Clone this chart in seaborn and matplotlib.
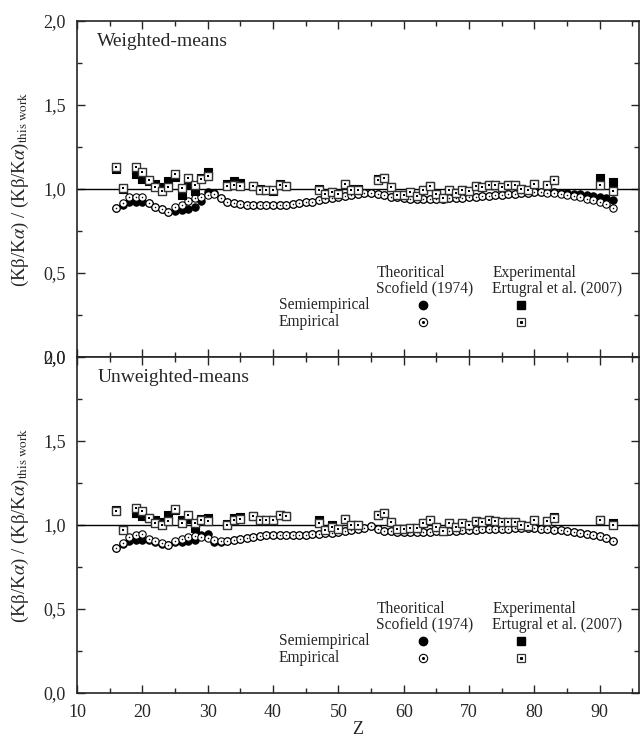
import matplotlib
matplotlib.use('Agg')
import matplotlib.pyplot as plt
import seaborn as sns

# Z values of the Scofield (1974) theoretical ratios
z_theory = list(range(16, 93))

w_semi_theory = [0.885, 0.905, 0.925, 0.925, 0.925, 0.915, 0.895, 0.880, 0.865, 0.870,
                 0.875, 0.880, 0.895, 0.930, 0.985, 0.975, 0.945, 0.925, 0.915, 0.910,
                 0.905, 0.903, 0.903, 0.903, 0.903, 0.905, 0.907, 0.910, 0.915, 0.920,
                 0.925, 0.932, 0.938, 0.945, 0.952, 0.958, 0.964, 0.970, 0.975, 0.978,
                 0.970, 0.962, 0.955, 0.950, 0.945, 0.942, 0.940, 0.940, 0.940, 0.941,
                 0.942, 0.944, 0.946, 0.948, 0.951, 0.954, 0.957, 0.960, 0.963, 0.966,
                 0.969, 0.972, 0.975, 0.978, 0.980, 0.982, 0.982, 0.980, 0.978, 0.975,
                 0.972, 0.968, 0.963, 0.958, 0.952, 0.945, 0.935]
w_emp_theory = [0.885, 0.915, 0.950, 0.952, 0.950, 0.918, 0.895, 0.880, 0.865, 0.892,
                0.905, 0.928, 0.945, 0.952, 0.965, 0.972, 0.945, 0.925, 0.915, 0.910,
                0.905, 0.903, 0.903, 0.903, 0.903, 0.905, 0.907, 0.910, 0.915, 0.920,
                0.925, 0.932, 0.938, 0.945, 0.952, 0.958, 0.964, 0.970, 0.975, 0.978,
                0.970, 0.962, 0.955, 0.950, 0.945, 0.942, 0.940, 0.940, 0.940, 0.941,
                0.942, 0.944, 0.946, 0.948, 0.951, 0.954, 0.957, 0.960, 0.963, 0.966,
                0.969, 0.972, 0.975, 0.978, 0.980, 0.980, 0.978, 0.975, 0.970, 0.965,
                0.958, 0.950, 0.942, 0.933, 0.922, 0.908, 0.888]

u_semi_theory = [0.861, 0.885, 0.905, 0.910, 0.912, 0.910, 0.900, 0.890, 0.880, 0.900,
                 0.902, 0.905, 0.910, 0.940, 0.948, 0.900, 0.900, 0.908, 0.912, 0.918,
                 0.924, 0.930, 0.934, 0.938, 0.940, 0.941, 0.942, 0.942, 0.942, 0.943,
                 0.944, 0.946, 0.950, 0.955, 0.960, 0.965, 0.970, 0.975, 0.985, 0.995,
                 0.975, 0.966, 0.964, 0.960, 0.958, 0.958, 0.958, 0.958, 0.960, 0.962,
                 0.963, 0.965, 0.967, 0.969, 0.970, 0.972, 0.974, 0.976, 0.977, 0.978,
                 0.979, 0.980, 0.980, 0.980, 0.980, 0.979, 0.977, 0.973, 0.968, 0.963,
                 0.958, 0.951, 0.945, 0.940, 0.932, 0.922, 0.908]
u_emp_theory = [0.861, 0.894, 0.930, 0.940, 0.944, 0.914, 0.904, 0.894, 0.880, 0.905,
                0.918, 0.926, 0.932, 0.930, 0.925, 0.910, 0.905, 0.908, 0.912, 0.918,
                0.924, 0.930, 0.934, 0.938, 0.940, 0.941, 0.942, 0.942, 0.942, 0.943,
                0.944, 0.946, 0.950, 0.955, 0.960, 0.965, 0.970, 0.975, 0.985, 0.995,
                0.975, 0.966, 0.964, 0.960, 0.958, 0.958, 0.958, 0.958, 0.960, 0.962,
                0.963, 0.965, 0.967, 0.969, 0.970, 0.972, 0.974, 0.976, 0.977, 0.978,
                0.979, 0.980, 0.980, 0.980, 0.980, 0.979, 0.977, 0.973, 0.968, 0.963,
                0.958, 0.951, 0.945, 0.940, 0.932, 0.922, 0.908]

# Z values of the Ertugral et al. (2007) experimental ratios
z_exp = [16, 17, 19, 20, 21, 22, 23, 24, 25, 26, 27, 28, 29, 30, 33, 34, 35, 37, 38, 39,
         40, 41, 42, 47, 48, 49, 50, 51, 52, 53, 56, 57, 58, 59, 60, 61, 62, 63, 64, 65,
         66, 67, 68, 69, 70, 71, 72, 73, 74, 75, 76, 77, 78, 79, 80, 82, 83, 90, 92]

w_semi_exp = [1.120, 1.000, 1.090, 1.060, 1.045, 1.030, 1.015, 1.045, 1.070, 0.965,
              1.030, 0.990, 1.065, 1.100, 1.030, 1.045, 1.035, 1.020, 1.000, 0.995,
              0.990, 1.030, 1.020, 1.000, 0.975, 0.985, 0.972, 1.032, 0.998, 0.998,
              1.058, 1.066, 1.012, 0.962, 0.962, 0.982, 0.960, 0.996, 1.016, 0.970,
              0.945, 0.996, 0.975, 0.996, 0.986, 1.016, 1.010, 1.022, 1.022, 1.012,
              1.022, 1.022, 1.000, 0.996, 1.030, 1.026, 1.052, 1.065, 1.040]
w_emp_exp = [1.130, 1.005, 1.130, 1.100, 1.055, 1.015, 0.990, 1.015, 1.090, 1.005,
             1.068, 1.026, 1.062, 1.080, 1.016, 1.026, 1.020, 1.016, 0.996, 0.996,
             0.995, 1.026, 1.016, 0.996, 0.970, 0.982, 0.970, 1.030, 0.996, 0.996,
             1.056, 1.066, 1.012, 0.962, 0.962, 0.982, 0.960, 0.996, 1.016, 0.970,
             0.945, 0.996, 0.975, 0.996, 0.986, 1.016, 1.010, 1.022, 1.022, 1.012,
             1.022, 1.022, 1.000, 0.996, 1.030, 1.026, 1.052, 1.022, 0.986]

u_semi_exp = [1.090, 0.975, 1.070, 1.055, 1.040, 1.030, 1.020, 1.060, 1.090, 1.030,
              1.035, 0.985, 1.035, 1.040, 1.005, 1.040, 1.045, 1.055, 1.030, 1.030,
              1.030, 1.060, 1.055, 1.030, 0.975, 1.000, 0.975, 1.035, 1.000, 1.000,
              1.060, 1.070, 1.020, 0.975, 0.975, 0.980, 0.985, 1.015, 1.030, 0.988,
              0.964, 1.014, 0.988, 1.010, 0.998, 1.024, 1.018, 1.030, 1.024, 1.018,
              1.020, 1.020, 0.998, 0.994, 1.030, 1.024, 1.045, 1.030, 1.015]
u_emp_exp = [1.084, 0.970, 1.103, 1.084, 1.044, 1.014, 0.999, 1.024, 1.093, 1.010,
             1.060, 1.014, 1.028, 1.024, 0.998, 1.030, 1.036, 1.054, 1.030, 1.030,
             1.030, 1.060, 1.054, 1.014, 0.970, 0.990, 0.975, 1.034, 0.998, 0.998,
             1.057, 1.070, 1.020, 0.974, 0.974, 0.980, 0.984, 1.014, 1.030, 0.988,
             0.964, 1.014, 0.988, 1.010, 0.998, 1.024, 1.018, 1.030, 1.024, 1.018,
             1.020, 1.020, 0.998, 0.994, 1.030, 1.024, 1.040, 1.030, 1.000]

y_ticks = [0.0, 0.5, 1.0, 1.5, 2.0]
y_tick_labels = ['0,0', '0,5', '1,0', '1,5', '2,0']
x_ticks = [10, 20, 30, 40, 50, 60, 70, 80, 90]

sns.set_style('ticks')
plt.rcParams['font.family'] = ['Liberation Serif', 'DejaVu Serif']
plt.rcParams['mathtext.fontset'] = 'stix'

ylabel = '(Kβ/K$\\alpha$) / (Kβ/K$\\alpha$)$_{\\mathrm{this\\ work}}$'


def draw_panel(ax, title, semi_th, emp_th, semi_ex, emp_ex):
    ax.axhline(1.0, color='black', lw=1.0, zorder=1)
    sns.scatterplot(x=z_theory, y=semi_th, ax=ax, marker='o', s=28, color='black',
                    edgecolor='black', linewidth=0.8, zorder=2)
    sns.scatterplot(x=z_theory, y=emp_th, ax=ax, marker='o', s=28, color='white',
                    edgecolor='black', linewidth=0.8, zorder=3)
    sns.scatterplot(x=z_theory, y=emp_th, ax=ax, marker='o', s=1.2, color='black',
                    linewidth=0, zorder=4)
    sns.scatterplot(x=z_exp, y=semi_ex, ax=ax, marker='s', s=34, color='black',
                    edgecolor='black', linewidth=0.8, zorder=5)
    sns.scatterplot(x=z_exp, y=emp_ex, ax=ax, marker='s', s=34, color='white',
                    edgecolor='#333333', linewidth=1.0, zorder=6)
    sns.scatterplot(x=z_exp, y=emp_ex, ax=ax, marker='s', s=1.5, color='black',
                    linewidth=0, zorder=7)

    ax.set_xlim(10, 96)
    ax.set_ylim(0, 2.0)
    ax.set_xticks(x_ticks)
    ax.set_xticks(range(15, 96, 10), minor=True)
    ax.set_yticks(y_ticks)
    ax.set_yticklabels(y_tick_labels)
    ax.set_yticks([0.25, 0.75, 1.25, 1.75], minor=True)
    ax.tick_params(which='both', direction='in', top=True, right=True,
                   width=1.0, labelsize=13)
    ax.tick_params(which='major', length=6)
    ax.tick_params(which='minor', length=3.5)
    ax.tick_params(axis='y', pad=8)
    ax.tick_params(axis='x', pad=8)
    for sp in ax.spines.values():
        sp.set_linewidth(1.2)

    ax.set_ylabel(ylabel, fontsize=13.5)
    ax.yaxis.set_label_coords(-0.082, 0.5)
    ax.text(0.036, 0.94, title, transform=ax.transAxes, fontsize=14, va='center')

    # text legend
    fs = 11.2
    ax.text(0.533, 0.25, 'Theoritical', transform=ax.transAxes, fontsize=fs, va='center')
    ax.text(0.533, 0.203, 'Scofield (1974)', transform=ax.transAxes, fontsize=fs, va='center')
    ax.text(0.739, 0.25, 'Experimental', transform=ax.transAxes, fontsize=fs, va='center')
    ax.text(0.739, 0.203, 'Ertugral et al. (2007)', transform=ax.transAxes, fontsize=fs, va='center')
    ax.text(0.359, 0.155, 'Semiempirical', transform=ax.transAxes, fontsize=fs, va='center')
    ax.text(0.359, 0.103, 'Empirical', transform=ax.transAxes, fontsize=fs, va='center')
    ax.plot([0.615], [0.155], 'o', ms=6, mfc='black', mec='black', transform=ax.transAxes)
    ax.plot([0.615], [0.103], 'o', ms=6, mfc='white', mec='black', mew=0.8, transform=ax.transAxes)
    ax.plot([0.615], [0.103], 'o', ms=1.2, color='black', transform=ax.transAxes)
    ax.plot([0.790], [0.155], 's', ms=6, mfc='black', mec='black', transform=ax.transAxes)
    ax.plot([0.790], [0.103], 's', ms=6, mfc='white', mec='#333333', mew=0.9, transform=ax.transAxes)
    ax.plot([0.790], [0.103], 's', ms=1.2, color='black', transform=ax.transAxes)


fig = plt.figure(figsize=(6.4, 7.38), dpi=100)
ax1 = fig.add_axes([0.1203, 0.5162, 0.878, 0.4553])
ax2 = fig.add_axes([0.1203, 0.0609, 0.878, 0.4553])

draw_panel(ax1, 'Weighted-means', w_semi_theory, w_emp_theory, w_semi_exp, w_emp_exp)
draw_panel(ax2, 'Unweighted-means', u_semi_theory, u_emp_theory, u_semi_exp, u_emp_exp)

ax1.tick_params(labelbottom=False)
ax1.set_xlabel('')
ax2.set_xlabel('Z', fontsize=13, labelpad=0)

fig.savefig('out.png', dpi=100)
